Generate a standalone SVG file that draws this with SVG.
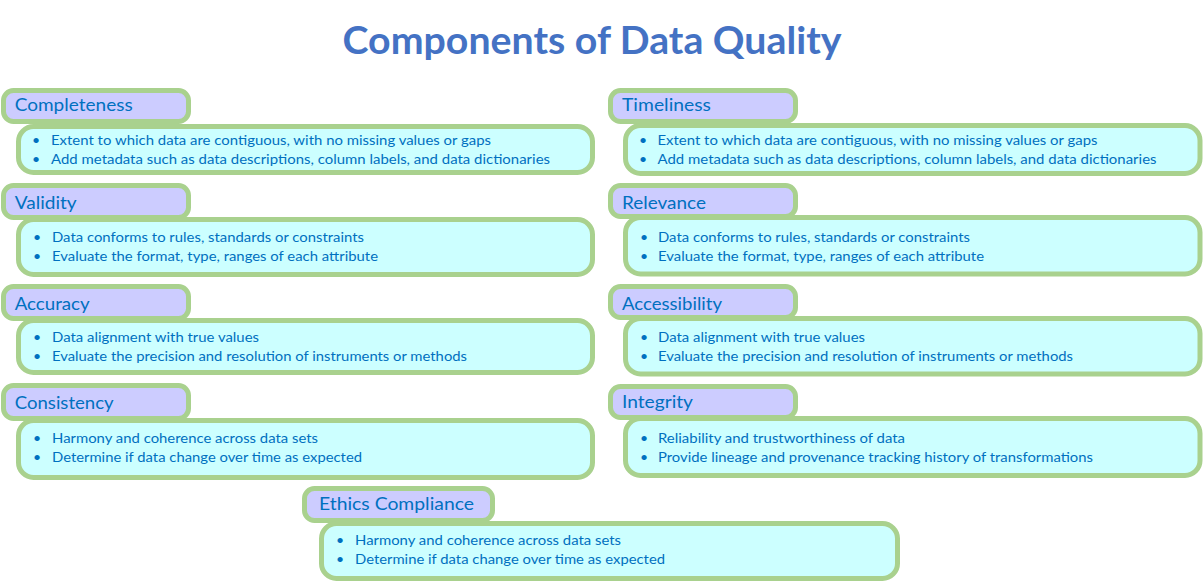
<svg xmlns="http://www.w3.org/2000/svg" width="1203" height="582" viewBox="0 0 1203 582">
<style>
.hd{fill:#CCCCFF;stroke:#A9D18E;stroke-width:5}
.bd{fill:#CCFFFF;stroke:#A9D18E;stroke-width:5}
.ht{font-family:Lato,"Liberation Sans",sans-serif;font-size:17px;fill:#0070C0}
.bt{font-family:Lato,"Liberation Sans",sans-serif;font-size:14px;fill:#0070C0}
.title{font-family:Lato,"Liberation Sans",sans-serif;font-size:38px;font-weight:bold;fill:#4472C4}
</style>
<rect width="1203" height="582" fill="#FFFFFF"/>
<text class="title" x="342.5" y="53.5" textLength="499" lengthAdjust="spacingAndGlyphs">Components of Data Quality</text>
<g id="connectors"></g>

<g id="completeness">
<rect class="hd" x="3.5" y="90.5" width="185" height="31" rx="10"/>
<rect class="bd" x="18.5" y="126.5" width="574" height="46" rx="15"/>
<text class="ht" x="14.7" y="111" textLength="118" lengthAdjust="spacingAndGlyphs">Completeness</text>
<text class="bt" x="32" y="145">•</text><text class="bt" x="51" y="145" textLength="440" lengthAdjust="spacingAndGlyphs">Extent to which data are contiguous, with no missing values or gaps</text>
<text class="bt" x="32" y="163.5">•</text><text class="bt" x="51" y="163.5" textLength="499" lengthAdjust="spacingAndGlyphs">Add metadata such as data descriptions, column labels, and data dictionaries</text>
</g>

<g id="validity">
<rect class="hd" x="3.5" y="185.5" width="185" height="32" rx="10"/>
<rect class="bd" x="18.5" y="219.5" width="574" height="55" rx="15"/>
<text class="ht" x="14.7" y="209" textLength="62" lengthAdjust="spacingAndGlyphs">Validity</text>
<text class="bt" x="33" y="241.5">•</text><text class="bt" x="52" y="241.5" textLength="312" lengthAdjust="spacingAndGlyphs">Data conforms to rules, standards or constraints</text>
<text class="bt" x="33" y="260.5">•</text><text class="bt" x="52" y="260.5" textLength="326" lengthAdjust="spacingAndGlyphs">Evaluate the format, type, ranges of each attribute</text>
</g>

<g id="accuracy">
<rect class="hd" x="3.5" y="286.5" width="185" height="32" rx="10"/>
<rect class="bd" x="18.5" y="320.5" width="574" height="52" rx="15"/>
<text class="ht" x="14.7" y="309.5" textLength="75" lengthAdjust="spacingAndGlyphs">Accuracy</text>
<text class="bt" x="33" y="341.5">•</text><text class="bt" x="52" y="341.5" textLength="207" lengthAdjust="spacingAndGlyphs">Data alignment with true values</text>
<text class="bt" x="33" y="360.5">•</text><text class="bt" x="52" y="360.5" textLength="415" lengthAdjust="spacingAndGlyphs">Evaluate the precision and resolution of instruments or methods</text>
</g>

<g id="consistency">
<rect class="hd" x="3.5" y="385.5" width="185" height="33" rx="10"/>
<rect class="bd" x="18.5" y="420.5" width="574" height="57" rx="15"/>
<text class="ht" x="14.7" y="408.5" textLength="99" lengthAdjust="spacingAndGlyphs">Consistency</text>
<text class="bt" x="33" y="443">•</text><text class="bt" x="52" y="443" textLength="266" lengthAdjust="spacingAndGlyphs">Harmony and coherence across data sets</text>
<text class="bt" x="33" y="462">•</text><text class="bt" x="52" y="462" textLength="310" lengthAdjust="spacingAndGlyphs">Determine if data change over time as expected</text>
</g>

<g id="timeliness">
<rect class="hd" x="610.5" y="90.5" width="185" height="31" rx="10"/>
<rect class="bd" x="625.5" y="125.5" width="574.5" height="48" rx="15"/>
<text class="ht" x="622" y="111" textLength="89" lengthAdjust="spacingAndGlyphs">Timeliness</text>
<text class="bt" x="639" y="145">•</text><text class="bt" x="657.5" y="145" textLength="440" lengthAdjust="spacingAndGlyphs">Extent to which data are contiguous, with no missing values or gaps</text>
<text class="bt" x="639" y="163.5">•</text><text class="bt" x="657.5" y="163.5" textLength="499" lengthAdjust="spacingAndGlyphs">Add metadata such as data descriptions, column labels, and data dictionaries</text>
</g>

<g id="relevance">
<rect class="hd" x="610.5" y="185.5" width="185" height="31" rx="10"/>
<rect class="bd" x="625.5" y="217.5" width="574.5" height="56.5" rx="15"/>
<text class="ht" x="622" y="209" textLength="84" lengthAdjust="spacingAndGlyphs">Relevance</text>
<text class="bt" x="640" y="241.5">•</text><text class="bt" x="658" y="241.5" textLength="312" lengthAdjust="spacingAndGlyphs">Data conforms to rules, standards or constraints</text>
<text class="bt" x="640" y="260.5">•</text><text class="bt" x="658" y="260.5" textLength="326" lengthAdjust="spacingAndGlyphs">Evaluate the format, type, ranges of each attribute</text>
</g>

<g id="accessibility">
<rect class="hd" x="610.5" y="286.5" width="185" height="31" rx="10"/>
<rect class="bd" x="625.5" y="318.5" width="574.5" height="55.5" rx="15"/>
<text class="ht" x="622" y="309.5" textLength="100" lengthAdjust="spacingAndGlyphs">Accessibility</text>
<text class="bt" x="640" y="341.5">•</text><text class="bt" x="658" y="341.5" textLength="207" lengthAdjust="spacingAndGlyphs">Data alignment with true values</text>
<text class="bt" x="640" y="360.5">•</text><text class="bt" x="658" y="360.5" textLength="415" lengthAdjust="spacingAndGlyphs">Evaluate the precision and resolution of instruments or methods</text>
</g>

<g id="integrity">
<rect class="hd" x="610.5" y="386.5" width="185" height="31" rx="10"/>
<rect class="bd" x="625.5" y="418.5" width="574.5" height="57" rx="15"/>
<text class="ht" x="622" y="407.5" textLength="71" lengthAdjust="spacingAndGlyphs">Integrity</text>
<text class="bt" x="640" y="442.5">•</text><text class="bt" x="658" y="442.5" textLength="247" lengthAdjust="spacingAndGlyphs">Reliability and trustworthiness of data</text>
<text class="bt" x="640" y="461.5">•</text><text class="bt" x="658" y="461.5" textLength="435" lengthAdjust="spacingAndGlyphs">Provide lineage and provenance tracking history of transformations</text>
</g>

<g id="ethics-compliance">
<rect class="hd" x="304.5" y="488.5" width="188" height="32" rx="10"/>
<rect class="bd" x="321.5" y="523.5" width="576" height="55" rx="15"/>
<text class="ht" x="319" y="510" textLength="155" lengthAdjust="spacingAndGlyphs">Ethics Compliance</text>
<text class="bt" x="336" y="545">•</text><text class="bt" x="355" y="545" textLength="266" lengthAdjust="spacingAndGlyphs">Harmony and coherence across data sets</text>
<text class="bt" x="336" y="563.5">•</text><text class="bt" x="355" y="563.5" textLength="310" lengthAdjust="spacingAndGlyphs">Determine if data change over time as expected</text>
</g>
</svg>
